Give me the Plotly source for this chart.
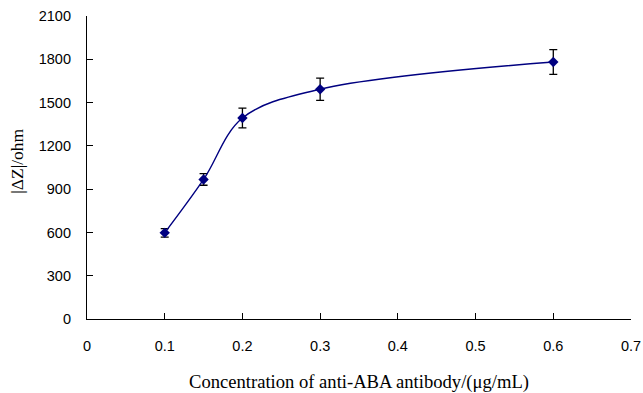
import plotly.graph_objects as go

concentration = [0.1, 0.15, 0.2, 0.3, 0.6]
delta_z = [597, 967, 1393, 1592, 1781]
error = [30, 40, 69, 77, 86]

x_ticks = [0, 0.1, 0.2, 0.3, 0.4, 0.5, 0.6, 0.7]
x_tick_labels = ["0", "0.1", "0.2", "0.3", "0.4", "0.5", "0.6", "0.7"]
y_ticks = [0, 300, 600, 900, 1200, 1500, 1800, 2100]
x_title = "Concentration of anti-ABA antibody/(\u03bcg/mL)"
y_title = "|\u0394Z|/ohm"

fig = go.Figure()
fig.add_trace(go.Scatter(
    x=concentration, y=delta_z,
    mode="lines+markers",
    line=dict(color="#000080", width=1.4, shape="spline", smoothing=1.0),
    marker=dict(symbol="diamond", size=8, color="#000080"),
    error_y=dict(type="data", array=error, visible=True, color="black", thickness=1.3, width=4),
    showlegend=False,
))

fig.update_layout(
    width=643, height=393,
    margin=dict(l=87, r=12, t=16, b=74, autoexpand=False),
    plot_bgcolor="white", paper_bgcolor="white",
    font=dict(family="Liberation Sans, Arial", size=14.5, color="black"),
    annotations=[
        dict(text=x_title, xref="paper", yref="paper", x=0.5, y=-0.207,
             xanchor="center", yanchor="middle", showarrow=False,
             font=dict(family="Liberation Serif, Times New Roman", size=18.6, color="black")),
        dict(text=y_title, xref="paper", yref="paper", x=-0.128, y=0.52,
             xanchor="center", yanchor="middle", textangle=-90, showarrow=False,
             font=dict(family="Liberation Serif, Times New Roman", size=17.5, color="black")),
    ],
)
fig.update_xaxes(
    range=[0, 0.7], tickvals=x_ticks, ticktext=x_tick_labels,
    showline=True, linecolor="black", linewidth=1.2, mirror=False,
    ticks="inside", ticklen=6, tickcolor="black", tickwidth=1,
    showgrid=False, zeroline=False, automargin=False,
    ticklabelstandoff=13,
)
fig.update_yaxes(
    range=[0, 2100], tickvals=y_ticks,
    showline=True, linecolor="black", linewidth=1.2,
    ticks="inside", ticklen=6, tickcolor="black", tickwidth=1,
    showgrid=False, zeroline=False, automargin=False,
    ticklabelstandoff=12,
)

fig.write_html("out.html", config={"displayModeBar": False},
               post_script="document.body.style.margin='0';document.body.style.padding='0';")
